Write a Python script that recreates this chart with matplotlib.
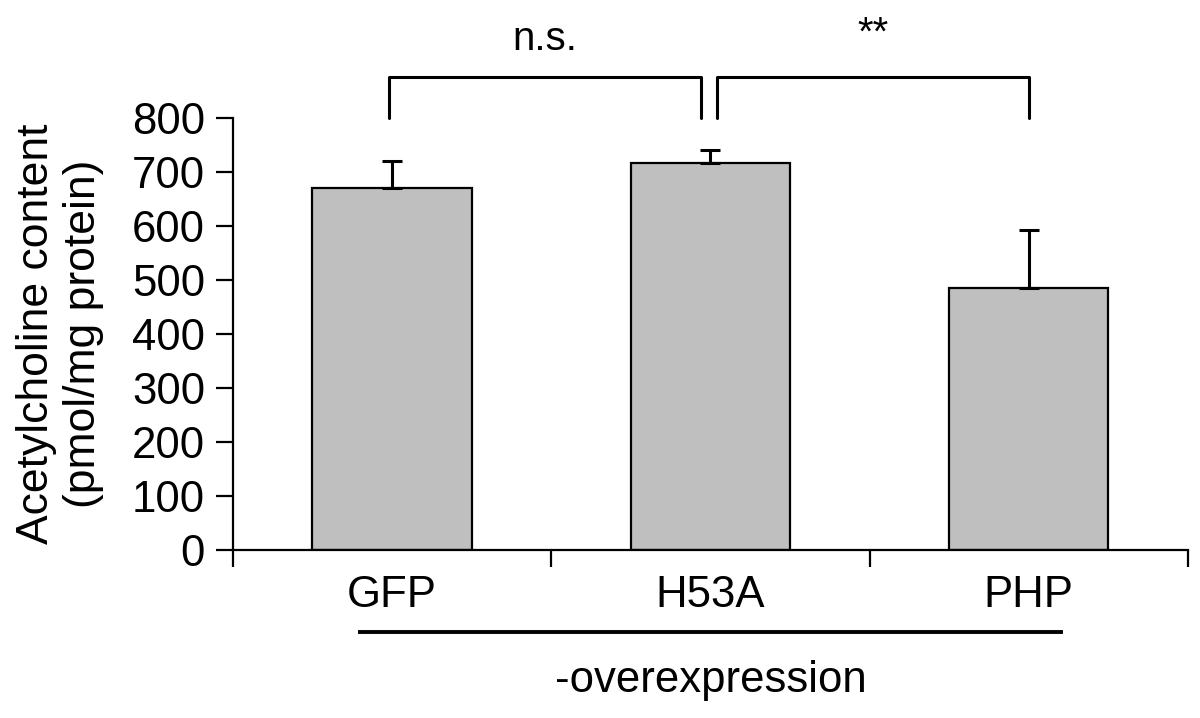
import matplotlib
matplotlib.use("Agg")
from matplotlib import pyplot as plt

plt.rcParams['font.family'] = ['Liberation Sans', 'DejaVu Sans']

groups = ["GFP", "H53A", "PHP"]
means = [670, 717, 485]
errors = [50, 23, 107]
yticks = [0, 100, 200, 300, 400, 500, 600, 700, 800]

fig = plt.figure(figsize=(12, 7.18), dpi=100)
ax = fig.add_axes([0.194, 0.234, 0.796, 0.602])

x = [i + 0.5 for i in range(len(groups))]
ax.bar(x, means, 0.5, color="#bfbfbf", edgecolor="black", linewidth=1.6, zorder=2)
ax.errorbar(x, means, yerr=[[0] * len(errors), errors], fmt="none", ecolor="black",
            elinewidth=2.2, capsize=7.5, capthick=2.2, zorder=3)

ax.set_xlim(0, 3)
ax.set_ylim(0, 800)
ax.set_yticks(yticks)
ax.set_xticks([0, 1, 2, 3])
ax.set_xticklabels([])
ax.set_xticks(x, minor=True)
ax.set_xticklabels(groups, minor=True)
ax.tick_params(axis="x", which="major", direction="out", length=12, width=1.6)
ax.tick_params(axis="x", which="minor", length=0, pad=18, labelsize=31.5)
ax.tick_params(axis="y", direction="out", length=12, width=1.6, labelsize=31.5, pad=8)

for s in ["top", "right"]:
    ax.spines[s].set_visible(False)
for s in ["left", "bottom"]:
    ax.spines[s].set_linewidth(1.6)

ax.set_ylabel("Acetylcholine content\n(pmol/mg protein)", fontsize=32, labelpad=20,
              linespacing=1.2)

# significance brackets
def bracket(x1, x2, low, high, label, ty):
    ax.plot([x1, x1, x2, x2], [low, high, high, low], color="black", lw=2.2,
            clip_on=False, solid_capstyle="round")
    ax.text((x1 + x2) / 2, ty, label, ha="center", va="center", fontsize=29,
            clip_on=False)

bracket(0.49, 1.47, 800, 876, "n.s.", 945)
bracket(1.52, 2.50, 800, 876, "**", 955)

# group line and caption
ax.plot([0.40, 2.60], [-152, -152], color="black", lw=2.8, clip_on=False)
ax.text(1.5, -241, "-overexpression", ha="center", va="center", fontsize=31.5)

fig.savefig("out.png", dpi=100)
